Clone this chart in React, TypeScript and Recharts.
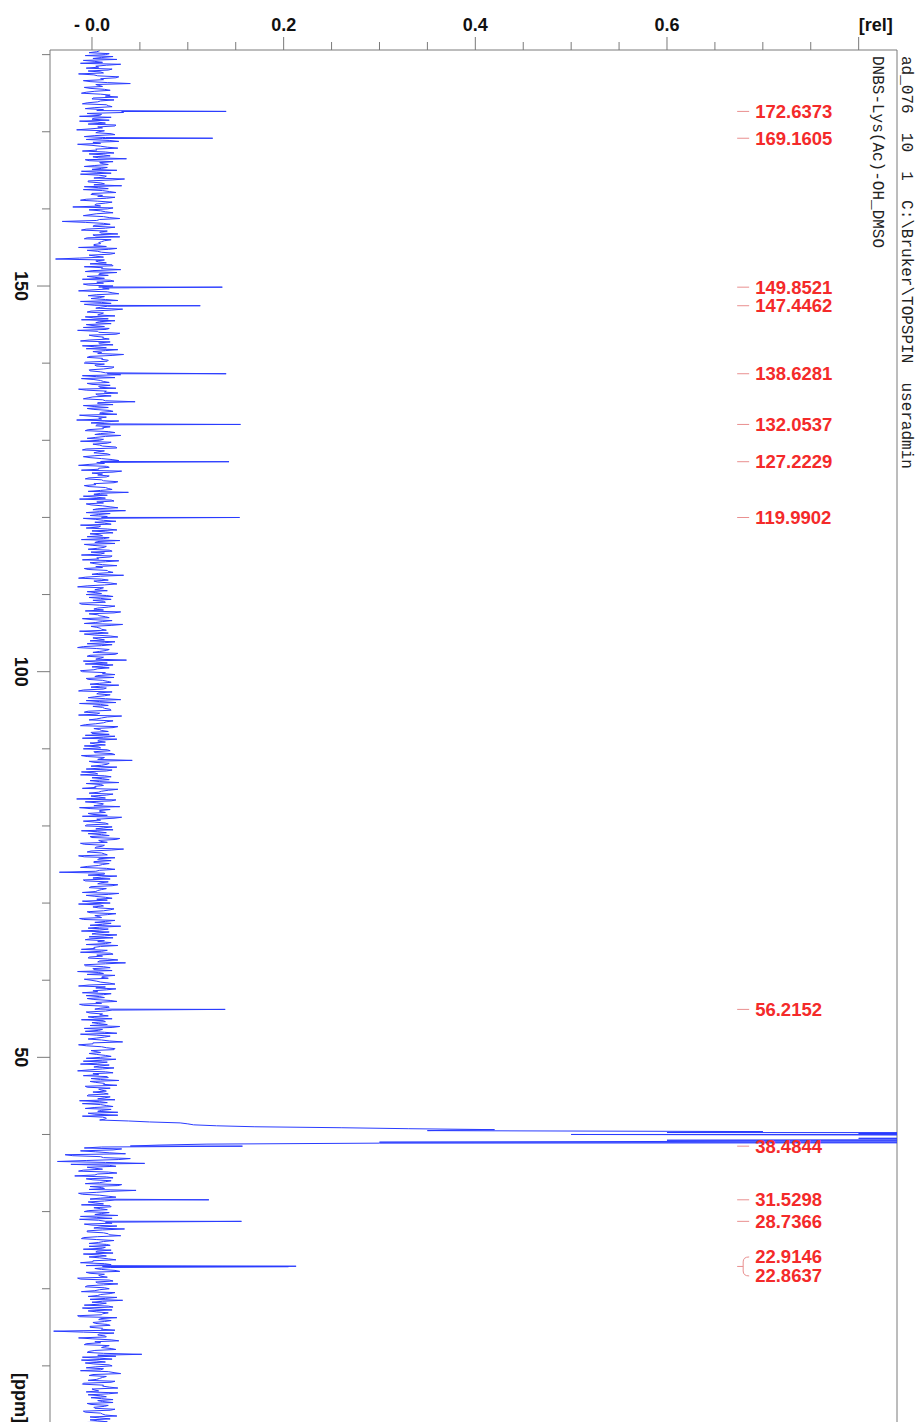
import React from 'react';
import { LineChart, Line, XAxis, YAxis, ReferenceDot, ReferenceLine } from 'recharts';

// ---- data ----
// trace digitised on two interleaved 0.25 ppm grids (180.5 and 180.375 ppm downwards), values in 1/1000 rel
const NOISE_STEP = 0.25;
const NOISE_TOP = 180.5;
const NOISE = [
  8,-3,14,22,1,-9,11,30,4,-6,17,9,-14,6,25,12,-2,40,7,-8,
  13,3,-11,19,27,0,9,-5,15,21,-7,5,33,10,-13,2,18,6,-4,24,
  11,-16,7,20,3,14,-6,28,9,-1,16,4,-10,23,12,1,36,-3,8,17,
  -8,10,26,5,-12,15,2,21,-4,13,31,7,-9,18,0,11,24,-6,6,14,
  3,-20,16,9,22,-2,12,29,5,-7,19,1,14,-11,8,27,4,-5,20,10,
  9,2,-14,17,6,24,-3,12,-38,4,15,21,-8,10,1,26,7,-5,13,19,
  5,-9,22,11,0,16,28,-4,8,14,-12,20,3,9,32,-1,12,6,-7,17,
  24,4,-6,13,18,-15,7,25,2,11,-3,19,8,-10,15,27,1,6,21,-5,
  10,16,-8,3,23,12,-2,14,30,5,-11,9,18,0,7,25,-6,13,4,20,
  -4,11,45,6,-9,17,2,22,8,-13,15,10,28,-1,5,19,12,-7,24,3,
  14,-5,8,20,1,11,26,-10,6,16,3,-2,21,9,13,-14,18,7,31,0,
  6,15,-7,12,23,4,-3,17,9,38,2,-9,14,20,5,-6,11,27,1,8,
  19,-2,10,4,25,13,-12,7,16,0,22,8,-5,12,29,3,-8,15,6,18,
  -1,9,21,5,-10,14,3,26,11,-4,17,7,33,-7,10,2,19,13,-15,8,
  16,4,-6,22,9,1,14,-11,24,6,12,30,-3,8,18,0,11,-8,20,5,
  10,-13,17,3,27,7,-2,13,21,-9,5,15,1,24,-5,9,36,4,-7,12,
  18,2,-10,11,6,23,-4,16,8,28,-1,12,-14,7,19,3,14,-6,25,9,
  1,13,20,-8,5,31,10,-3,15,4,-12,22,8,17,0,-7,12,26,6,-2,
  14,7,-9,19,3,24,-5,11,42,2,16,-1,9,21,-11,6,13,0,18,8,
  -6,12,4,27,10,-3,15,7,-16,20,5,11,29,-2,8,14,1,-10,23,9,
  3,17,-7,12,22,6,-4,18,0,25,9,-12,13,4,33,-1,10,16,-8,7,
  20,2,11,-5,15,8,-34,13,26,1,-9,17,6,21,-3,10,4,28,-6,14,
  5,-10,19,9,1,23,12,-2,16,7,-13,24,3,11,30,-4,8,18,0,13,
  22,-7,6,14,27,2,-11,10,19,5,-3,16,8,35,-8,12,1,21,7,-5,
  11,17,-1,9,24,-14,4,15,6,20,-6,13,2,26,10,-9,18,3,14,-2,
  8,-4,21,12,0,16,29,-8,7,13,-12,19,5,10,32,1,-6,15,23,4,
  -3,14,9,25,-9,6,18,2,11,-15,22,7,16,-1,28,4,12,-7,19,10,
  1,17,-5,13,24,8,-10,15,3,20,6,-4,27,11,14,38,92,106,170,330,
  350,600,500,900,800,600,300,120,40,-8,22,4,35,-20,12,28,-36,55,18,-5,
  11,-14,26,3,15,-6,20,8,31,-2,13,46,5,-10,17,9,24,-4,12,19,
  2,16,-8,10,27,5,-13,14,21,0,9,34,-5,12,18,6,-11,23,7,15,
  -3,11,20,4,-9,15,8,25,1,13,-6,19,10,29,-2,7,16,-12,22,6,
  12,-7,18,3,24,9,-4,14,32,0,8,17,-10,21,5,11,-15,26,7,13,
  4,19,-2,10,-40,23,6,15,1,28,9,-8,13,20,3,-5,52,25,8,-11,
  14,2,21,-6,9,17,30,-3,11,5,24,-9,12,18,0,7,27,-4,15,10,
  6,22,-1,13,3,19,-7,11,26,8,-2,16,4,20,9,-5,14,1,23,10,
];
const NOISE2_TOP = 180.375;
const NOISE2 = [
  5,18,-7,10,26,3,-12,15,7,21,-4,12,2,28,9,-9,16,4,11,-2,
  19,-6,9,14,1,23,6,-10,17,3,12,31,-5,8,20,0,-13,14,25,6,
  -2,13,4,24,-8,11,18,1,-15,9,27,5,14,-3,19,7,-7,22,10,3,
  16,0,-11,20,7,13,34,-4,9,2,-8,17,11,25,-1,6,15,-12,21,4,
  9,22,-3,14,5,-9,18,8,-31,12,3,24,-6,16,9,1,29,-8,13,7,
  2,15,26,-5,10,19,4,-13,13,7,-2,22,11,30,-7,8,17,3,-10,23,
  12,-4,7,18,-14,21,5,13,-1,27,10,-8,16,4,20,-5,9,24,2,-11,
  8,20,1,-9,15,6,29,-3,12,18,-12,7,22,3,-6,14,10,33,-2,11,
  17,-7,13,5,21,-3,9,16,-10,24,2,12,-5,19,8,-14,15,27,6,1,
  -9,14,6,22,3,-5,18,10,26,-1,7,-16,13,20,4,11,-4,17,9,30,
  4,12,-12,16,8,25,-6,13,2,19,-9,10,28,5,-3,15,7,-11,22,11,
  18,-3,10,27,2,-8,14,21,-4,9,16,5,-13,23,12,-1,19,6,35,-6,
  7,16,-9,12,3,20,9,-6,26,14,-2,11,18,-11,6,24,1,13,-4,21,
  13,-11,19,7,28,-2,11,4,-8,16,22,0,9,-14,17,6,26,-5,12,3,
  -5,10,15,-3,20,12,-13,8,17,2,-7,23,6,14,-10,21,4,32,-1,9,
  15,6,-8,19,1,13,24,-5,10,-15,18,8,27,-2,12,4,-9,16,22,0,
  6,-12,14,24,3,-6,11,20,-2,9,15,-9,21,5,13,-4,30,8,-13,17,
  11,19,-4,8,-14,16,5,22,12,-7,27,2,10,-1,18,24,-10,7,14,4,
  -8,9,16,2,21,-11,13,6,-3,18,10,26,-6,15,3,-12,20,11,-2,28,
  9,3,-10,17,7,22,-1,14,25,-7,12,2,-13,19,8,-4,16,31,5,-9,
  14,-6,21,4,-11,15,10,-2,29,7,16,-8,11,3,20,-5,13,-14,24,6,
  2,18,7,-12,24,4,13,-4,10,19,-7,9,27,-1,15,6,-10,17,3,21,
  16,1,-14,12,7,19,-5,25,3,10,-9,14,20,-2,8,17,-11,5,26,-3,
  -1,13,20,-6,9,3,16,-12,22,11,-4,27,6,14,-7,19,2,-15,12,24,
  10,-8,5,18,-3,14,25,1,-10,12,8,-5,19,4,-13,16,9,21,-6,11,
  17,3,-11,14,7,-2,21,11,-7,26,5,13,-4,18,1,-14,10,24,-1,9,
  5,20,-6,11,16,-12,8,23,-3,14,1,-9,17,9,-2,13,26,-5,7,15,
  12,-4,19,6,-13,16,9,22,-7,10,27,3,-10,15,8,60,100,130,260,420,
  700,800,1100,1300,1100,700,300,70,10,31,-12,18,-28,9,40,-6,14,-22,25,3,
  -9,17,6,-18,22,1,14,-7,27,10,-3,19,-14,8,25,-2,13,4,-11,20,
  9,-4,18,3,-12,21,7,14,-8,26,2,11,-5,17,30,-9,5,12,-3,19,
  14,-9,5,22,8,-3,17,1,-12,20,11,3,24,-6,13,9,-15,18,4,27,
  -5,13,8,-11,19,6,26,-2,11,15,-8,22,3,-4,17,10,-13,9,20,1,
  16,-2,11,24,-9,7,14,-14,20,3,-6,18,10,25,-3,12,6,-10,21,5,
  -7,18,4,12,-12,23,1,15,8,-4,20,-10,11,27,3,-6,17,9,-1,22,
  11,-5,17,2,24,-9,9,14,-2,19,6,-13,21,4,12,-7,18,3,26,-4,
];

const PEAK_PPM = [172.6373, 169.1605, 149.8521, 147.4462, 138.6281, 132.0537, 127.2229, 119.9902, 56.2152, 38.4844, 31.5298, 28.7366, 22.9146, 22.8637];
const PEAK_REL = [0.140, 0.126, 0.136, 0.113, 0.140, 0.155, 0.143, 0.154, 0.139, 0.157, 0.122, 0.156, 0.213, 0.205];

const SOLVENT_PPM = [40.23, 40.02, 39.81, 39.60, 39.39, 39.18, 38.97];
const SOLVENT_REL = [1.6, 3.2, 4.6, 5.0, 4.6, 3.2, 1.6];

const LABEL_GROUPS = [
  [172.6373], [169.1605], [149.8521], [147.4462], [138.6281], [132.0537], [127.2229],
  [119.9902], [56.2152], [38.4844], [31.5298], [28.7366], [22.9146, 22.8637],
];

const X_DOMAIN = [-0.0438, 0.84];
const Y_DOMAIN = [0, 180.6];
const X_TICKS = [0, 0.05, 0.1, 0.15, 0.2, 0.25, 0.3, 0.35, 0.4, 0.45, 0.5, 0.55, 0.6, 0.65, 0.7, 0.75, 0.8];
const X_TICK_LABELS: Record<string, string> = { '0': '- 0.0', '0.2': '0.2', '0.4': '0.4', '0.6': '0.6', '0.8': '[rel]' };
const Y_TICKS = [0, 10, 20, 30, 40, 50, 60, 70, 80, 90, 100, 110, 120, 130, 140, 150, 160, 170, 180];
const Y_TICK_LABELS: Record<string, string> = { '150': '150', '100': '100', '50': '50' };
const LABEL_COLUMN_REL = 0.692;

const TITLE = 'DNBS-Lys(Ac)-OH_DMSO';
const INFO = 'ad_076  10  1  C:\\Bruker\\TOPSPIN  useradmin';

// ---- table ----
const rows: { ppm: number; rel: number }[] = [];
NOISE.forEach((v, i) => rows.push({ ppm: NOISE_TOP - i * NOISE_STEP, rel: v / 1000 }));
NOISE2.forEach((v, i) => rows.push({ ppm: NOISE2_TOP - i * NOISE_STEP, rel: v / 1000 }));
PEAK_PPM.forEach((p, i) => rows.push({ ppm: p, rel: PEAK_REL[i] }));
SOLVENT_PPM.forEach((p, i) => rows.push({ ppm: p, rel: SOLVENT_REL[i] }));
rows.sort((a, b) => b.ppm - a.ppm);

const AXIS_COLOR = '#7a7a7a';
const SANS = '"Liberation Sans", Arial, Helvetica, sans-serif';
const MONO = '"Liberation Mono", "Courier New", monospace';
const RED = '#f42a2a';

const XTick = (props: any) => {
  const { x, y, payload } = props;
  const key = String(Math.round(payload.value * 100) / 100);
  const label = X_TICK_LABELS[key];
  const major = label !== undefined;
  return (
    <g>
      <line x1={x} x2={x} y1={y - (major ? 13 : 8)} y2={y} stroke={AXIS_COLOR} strokeWidth={1} />
      {major && (
        <text
          x={x}
          y={y - 19}
          textAnchor={label === '[rel]' ? 'start' : 'middle'}
          fontFamily={SANS}
          fontWeight="bold"
          fontSize={18}
          fill="#111"
        >
          {label}
        </text>
      )}
    </g>
  );
};

const YTick = (props: any) => {
  const { x, y, payload } = props;
  const label = Y_TICK_LABELS[String(payload.value)];
  const major = payload.value % 50 === 0;
  return (
    <g>
      <line x1={x - (major ? 13 : 8)} x2={x} y1={y} y2={y} stroke={AXIS_COLOR} strokeWidth={1} />
      {label && (
        <text
          transform={`translate(15, ${y}) rotate(90)`}
          textAnchor="middle"
          fontFamily={SANS}
          fontWeight="bold"
          fontSize={18}
          fill="#111"
        >
          {label}
        </text>
      )}
    </g>
  );
};

const makeLabelShape = (values: number[]) => (props: any) => {
  const { cx, cy } = props;
  const dash = '#e98f8f';
  const textProps = { fontFamily: SANS, fontWeight: 'bold' as const, fontSize: 18.5, fill: RED };
  if (values.length === 1) {
    return (
      <g>
        <line x1={cx - 18} x2={cx - 6} y1={cy} y2={cy} stroke={dash} strokeWidth={1} />
        <text x={cx} y={cy + 6.5} {...textProps}>{values[0].toFixed(4)}</text>
      </g>
    );
  }
  const d = 9.5;
  return (
    <g>
      <path
        d={`M ${cx - 18} ${cy} H ${cx - 12} M ${cx - 6} ${cy - d} Q ${cx - 12} ${cy - d} ${cx - 12} ${cy - d + 5} V ${cy + d - 5} Q ${cx - 12} ${cy + d} ${cx - 6} ${cy + d}`}
        stroke={dash}
        fill="none"
        strokeWidth={1}
      />
      <text x={cx} y={cy - d + 6.5} {...textProps}>{values[0].toFixed(4)}</text>
      <text x={cx} y={cy + d + 6.5} {...textProps}>{values[1].toFixed(4)}</text>
    </g>
  );
};

export default function App() {
  return (
    <div style={{ position: 'absolute', left: 0, top: 0, width: 919, height: 1422, overflow: 'hidden', background: '#fff' }}>
      <LineChart
        layout="vertical"
        width={919}
        height={1443}
        data={rows}
        margin={{ top: 0, right: 22, bottom: 0, left: 0 }}
      >
        <XAxis
          type="number"
          orientation="top"
          domain={X_DOMAIN}
          allowDataOverflow
          ticks={X_TICKS}
          interval={0}
          height={50}
          tickSize={0}
          tickMargin={0}
          tickLine={false}
          axisLine={{ stroke: AXIS_COLOR }}
          tick={<XTick />}
        />
        <YAxis
          type="number"
          dataKey="ppm"
          domain={Y_DOMAIN}
          reversed
          allowDataOverflow
          ticks={Y_TICKS}
          interval={0}
          width={50}
          tickSize={0}
          tickMargin={0}
          tickLine={false}
          axisLine={{ stroke: AXIS_COLOR }}
          tick={<YTick />}
        />
        <ReferenceLine x={X_DOMAIN[1]} stroke={AXIS_COLOR} strokeWidth={1} />
        <Line
          type="linear"
          dataKey="rel"
          stroke="#2a3cff"
          strokeWidth={1}
          dot={false}
          isAnimationActive={false}
        />
        {LABEL_GROUPS.map((g, i) => (
          <ReferenceDot
            key={i}
            x={LABEL_COLUMN_REL}
            y={g.reduce((s, v) => s + v, 0) / g.length}
            r={0}
            shape={makeLabelShape(g)}
          />
        ))}
      </LineChart>
      <svg width={919} height={1422} style={{ position: 'absolute', left: 0, top: 0, pointerEvents: 'none' }}>
        <text transform="translate(873, 56) rotate(90)" fontFamily={MONO} fontSize={16} fill="#222">{TITLE}</text>
        <text transform="translate(902, 56) rotate(90)" fontFamily={MONO} fontSize={16} fill="#222" style={{ whiteSpace: 'pre' }} xmlSpace="preserve">{INFO}</text>
        <text transform="translate(15, 1373) rotate(90)" fontFamily={SANS} fontWeight="bold" fontSize={18} fill="#111">[ppm]</text>
      </svg>
    </div>
  );
}
